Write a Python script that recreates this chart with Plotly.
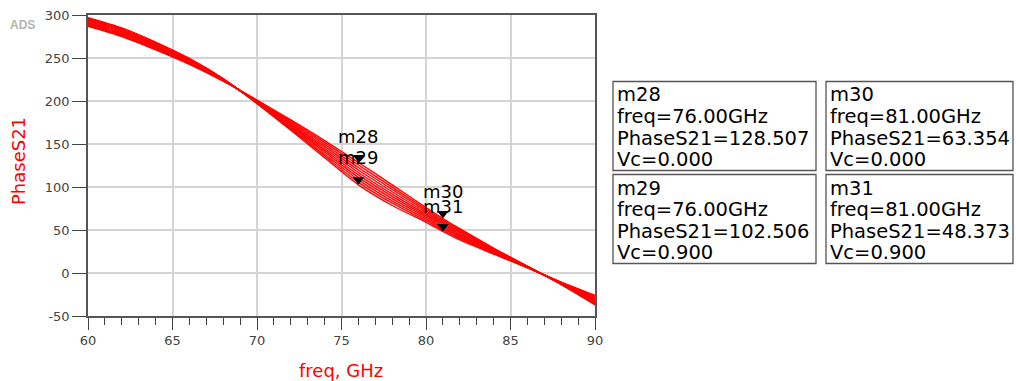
import plotly.graph_objects as go

# ---------------- data ----------------
freq_ghz = [60, 62, 64, 66, 68, 70, 72, 74, 76, 78, 80, 81, 82, 84, 86, 88, 90]
vc_values = [0.0, 0.1, 0.2, 0.3, 0.4, 0.5, 0.6, 0.7, 0.8, 0.9]

phase_vc00 = [287.0, 275.0, 259.5, 242.5, 223.0, 201.0, 178.0, 154.0, 128.5, 102.5, 76.0, 63.4, 51.5, 29.0, 8.0, -13.5, -37.0]
phase_vc01 = [288.1, 276.1, 260.5, 243.3, 223.3, 200.6, 176.7, 151.8, 125.6, 99.8, 74.1, 61.7, 50.1, 28.2, 7.8, -13.2, -35.8]
phase_vc02 = [289.2, 277.2, 261.5, 244.0, 223.7, 200.1, 175.3, 149.6, 122.7, 97.2, 72.2, 60.0, 48.6, 27.4, 7.6, -12.8, -34.6]
phase_vc03 = [290.3, 278.3, 262.5, 244.8, 224.0, 199.7, 174.0, 147.3, 119.8, 94.5, 70.3, 58.4, 47.2, 26.7, 7.3, -12.5, -33.3]
phase_vc04 = [291.4, 279.4, 263.5, 245.6, 224.3, 199.2, 172.7, 145.1, 116.9, 91.8, 68.4, 56.7, 45.7, 25.9, 7.1, -12.2, -32.1]
phase_vc05 = [292.6, 280.6, 264.5, 246.4, 224.7, 198.8, 171.3, 142.9, 114.1, 89.2, 66.6, 55.0, 44.3, 25.1, 6.9, -11.8, -30.9]
phase_vc06 = [293.7, 281.7, 265.5, 247.2, 225.0, 198.3, 170.0, 140.7, 111.2, 86.5, 64.7, 53.4, 42.8, 24.3, 6.7, -11.5, -29.7]
phase_vc07 = [294.8, 282.8, 266.5, 248.0, 225.3, 197.9, 168.7, 138.4, 108.3, 83.8, 62.8, 51.7, 41.4, 23.6, 6.4, -11.2, -28.4]
phase_vc08 = [295.9, 283.9, 267.5, 248.7, 225.7, 197.4, 167.3, 136.2, 105.4, 81.2, 60.9, 50.0, 39.9, 22.8, 6.2, -10.8, -27.2]
phase_vc09 = [297.0, 285.0, 268.5, 249.5, 226.0, 197.0, 166.0, 134.0, 102.5, 78.5, 59.0, 48.4, 38.5, 22.0, 6.0, -10.5, -26.0]

phase_curves = [phase_vc00, phase_vc01, phase_vc02, phase_vc03, phase_vc04,
                phase_vc05, phase_vc06, phase_vc07, phase_vc08, phase_vc09]

marker_names = ["m28", "m29", "m30", "m31"]
marker_freq = [76.0, 76.0, 81.0, 81.0]
marker_phase = [128.507, 102.506, 63.354, 48.373]
marker_vc = [0.0, 0.9, 0.0, 0.9]

x_ticks = [60, 65, 70, 75, 80, 85, 90]
y_ticks = [-50, 0, 50, 100, 150, 200, 250, 300]

# ---------------- layout geometry ----------------
W, H = 1016, 381
ML, MR, MT, MB = 88, 421, 15, 65
PW = W - ML - MR
PH = H - MT - MB


def px_x(px):
    return (px - ML) / PW


def px_y(py):
    return (H - MB - py) / PH


RED = "#ff0000"
FONT = "DejaVu Sans"

fig = go.Figure()

for vc, ph in zip(vc_values, phase_curves):
    fig.add_trace(go.Scatter(
        x=freq_ghz, y=ph, mode="lines",
        line=dict(color=RED, width=1.4, shape="spline", smoothing=0.8),
        name=f"Vc={vc:.1f}", showlegend=False, hoverinfo="skip"))

fig.add_trace(go.Scatter(
    x=marker_freq, y=marker_phase, mode="markers",
    marker=dict(symbol="triangle-up", angle=180, standoff=5, size=10, color="black"),
    showlegend=False, hoverinfo="skip"))

annotations = []
label_shift = [13, 15, 15, 12]
for name, f, p, s in zip(marker_names, marker_freq, marker_phase, label_shift):
    annotations.append(dict(x=f, y=p, xref="x", yref="y", text=name, showarrow=False,
                            xanchor="center", yanchor="bottom", yshift=s,
                            font=dict(family=FONT, size=18, color="black")))

# readout boxes
box_left = [613, 613, 826, 826]
box_right = [816, 816, 1013, 1013]
box_top = [81.5, 174.5, 81.5, 174.5]
box_h = 89
line_offsets = [13.5, 35, 56.5, 78]
shapes = []
for name, f, p, vc, bl, br, bt in zip(marker_names, marker_freq, marker_phase, marker_vc,
                                       box_left, box_right, box_top):
    shapes.append(dict(type="rect", xref="paper", yref="paper",
                       x0=px_x(bl), x1=px_x(br), y0=px_y(bt + box_h), y1=px_y(bt),
                       line=dict(color="#555555", width=1.3), fillcolor="white", layer="above"))
    lines = [name, f"freq={f:.2f}GHz", f"PhaseS21={p:.3f}", f"Vc={vc:.3f}"]
    for txt, off in zip(lines, line_offsets):
        annotations.append(dict(x=px_x(bl + 2), y=px_y(bt + off), xref="paper", yref="paper",
                                text=txt, showarrow=False, xanchor="left", yanchor="middle",
                                font=dict(family=FONT, size=19.5, color="black")))

# axis titles and ADS tag
annotations.append(dict(x=px_x(341), y=px_y(370), xref="paper", yref="paper", text="freq, GHz",
                        showarrow=False, xanchor="center", yanchor="middle",
                        font=dict(family=FONT, size=18, color=RED)))
annotations.append(dict(x=px_x(18), y=px_y(161), xref="paper", yref="paper", text="PhaseS21",
                        showarrow=False, xanchor="center", yanchor="middle", textangle=-90,
                        font=dict(family=FONT, size=18, color=RED)))
annotations.append(dict(x=px_x(22), y=px_y(24.5), xref="paper", yref="paper", text="<b>ADS</b>",
                        showarrow=False, xanchor="center", yanchor="middle",
                        font=dict(family="Liberation Sans", size=12, color="#b4b4b4")))

fig.update_layout(
    width=W, height=H,
    margin=dict(l=ML, r=MR, t=MT, b=MB, autoexpand=False),
    paper_bgcolor="white", plot_bgcolor="white",
    showlegend=False,
    annotations=annotations,
    shapes=shapes,
)

fig.update_xaxes(
    range=[60, 90], tickvals=x_ticks, ticktext=[str(v) for v in x_ticks],
    showgrid=True, gridcolor="#d4d4d4", gridwidth=1.5, zeroline=False,
    showline=True, linecolor="#555555", linewidth=1.5, mirror=True,
    ticks="outside", ticklen=12, tickwidth=1.3, tickcolor="#444444",
    tickfont=dict(family=FONT, size=13, color="#444444"),
    minor=dict(dtick=1, tick0=60, ticks="outside", ticklen=7, tickwidth=1.3,
               tickcolor="#444444", showgrid=False),
)
fig.update_yaxes(
    range=[-50, 300], tickvals=y_ticks, ticktext=[str(v) for v in y_ticks],
    showgrid=True, gridcolor="#d4d4d4", gridwidth=1.5, zeroline=False,
    showline=True, linecolor="#555555", linewidth=1.5, mirror=True,
    ticks="outside", ticklen=14, tickwidth=1.3, tickcolor="#444444",
    tickfont=dict(family=FONT, size=13, color="#444444"),
)

fig.write_html(
    "out.html",
    config={"displayModeBar": False},
    post_script="document.body.style.margin='0px';document.body.style.padding='0px';"
                "document.body.style.overflow='hidden';",
)
